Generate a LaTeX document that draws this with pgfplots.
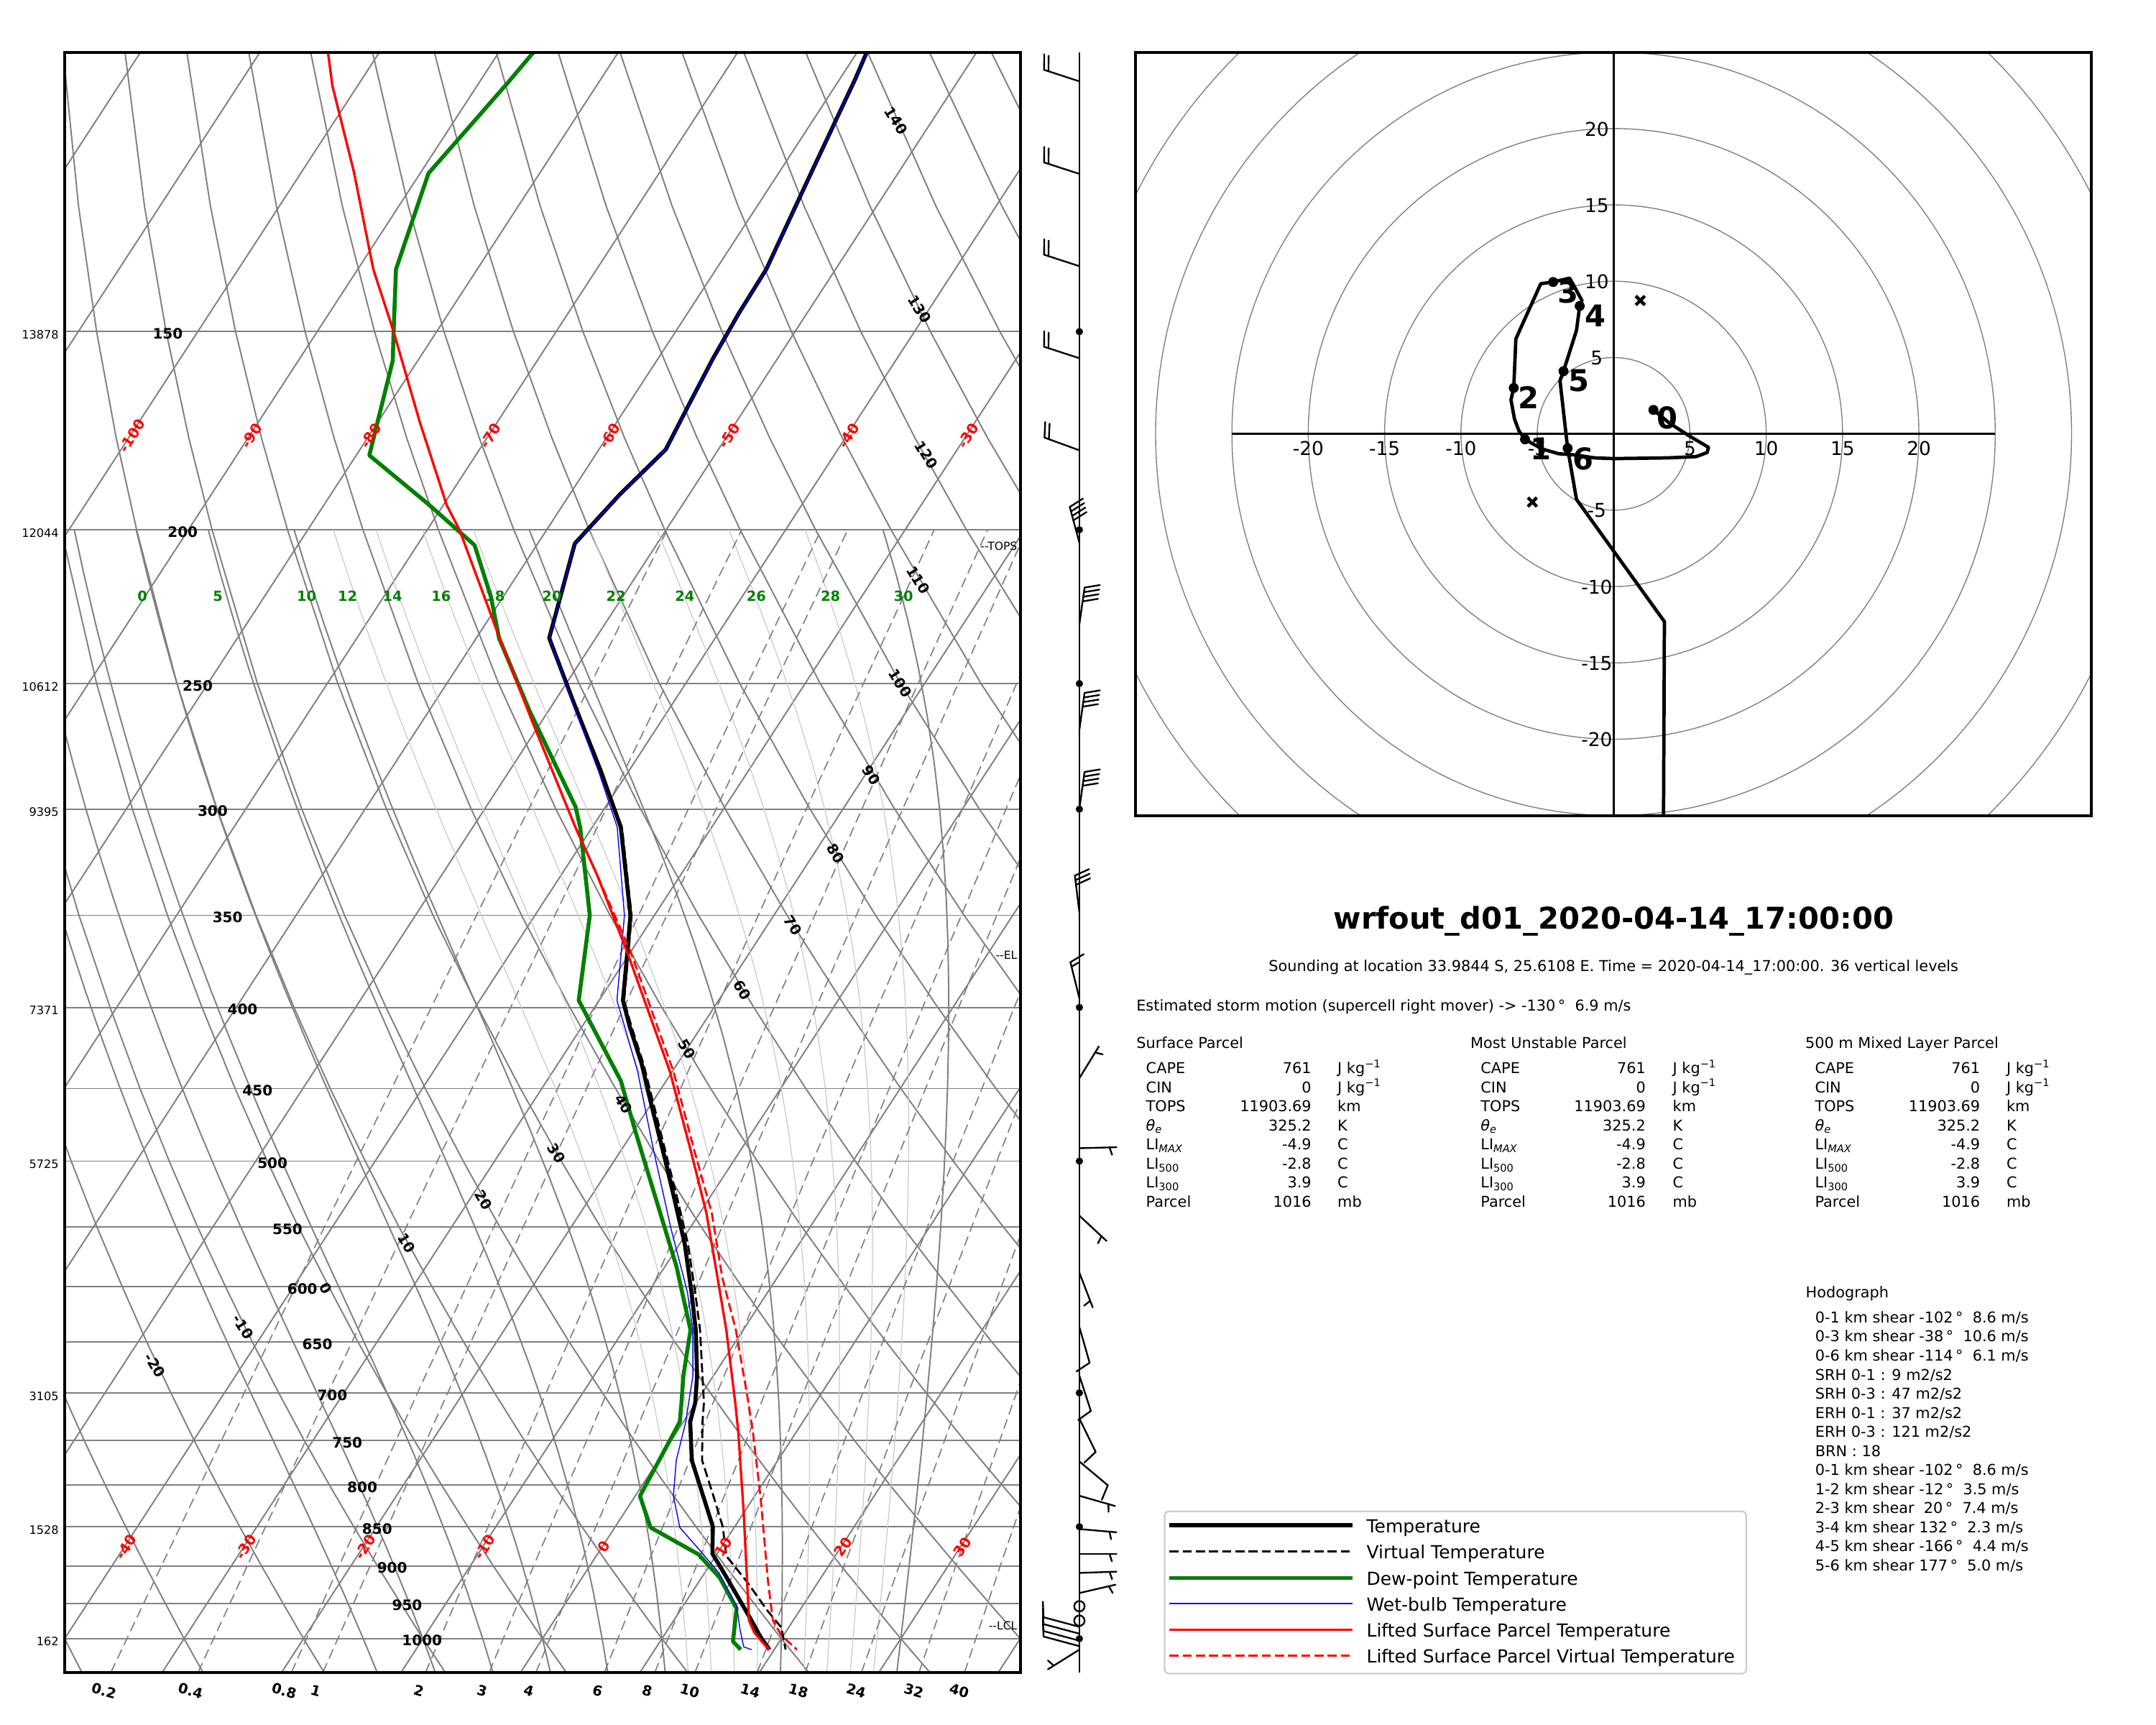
\documentclass[border=0pt]{standalone}
\usepackage{pgfplots}
\pgfplotsset{compat=1.18}
\usepackage{pgfplotstable}
\usepackage{fontspec}
\setmainfont{DejaVu Sans}

\definecolor{mgray}{HTML}{808080}
\definecolor{lgray}{HTML}{CACACA}
\definecolor{mgreen}{HTML}{008000}
\definecolor{legedge}{HTML}{CCCCCC}

\newcommand\U{0.68878pt}
\newcommand\fs[1]{\fontsize{#1}{#1}\selectfont}

% ---------------- sounding data (P in hPa, T in degC) ----------------
\pgfplotstableread{
P T
100 -59.2
104 -58.7
119 -57.3
137 -55.8
146 -55.7
156 -55.4
167 -54.9
178 -54.4
190 -55.8
204 -56.9
234 -53.9
258 -48.1
284 -42.3
308 -37.6
350 -32.0
371 -30.1
396 -28.0
411 -26.05
434 -23.0
462 -19.8
498 -15.9
526 -13.1
564 -9.56
605 -6.36
639 -3.96
683 -1.35
710 -0.05
730 0.57
772 2.8
816 5.9
850 8.17
884 9.6
906 11.38
938 13.85
971 16.3
998 18.2
1016 19.6
}\Ttab

\pgfplotstableread{
P T
100 -59.2
104 -58.7
119 -57.3
137 -55.8
146 -55.7
156 -55.4
167 -54.9
178 -54.4
190 -55.8
204 -56.9
234 -53.9
258 -48.1
284 -42.3
308 -37.5
350 -31.9
371 -30.0
396 -27.9
411 -25.9
434 -22.85
462 -19.6
498 -15.7
526 -12.85
564 -9.3
605 -6.05
639 -3.6
683 -0.9
710 0.68
730 1.6
772 3.66
810 6.35
850 9.0
887 10.9
921 14.05
960 17.3
984 19.4
1016 20.95
}\Tvtab

\pgfplotstableread{
P T
100 -87.1
104.6 -87.6
110.4 -88.3
119.2 -89.3
137 -86.8
150 -83.6
156.4 -82.1
179.5 -78.9
192.7 -71.3
204.5 -65.2
220.5 -61.0
234 -58.1
260 -51.6
299 -42.5
308 -41.0
350 -35.4
396 -31.7
445 -23.8
480 -19.7
583 -9.0
639 -4.4
683 -2.5
710 -1.2
730 -0.3
813 0.4
851 3.0
885 8.5
915 11.5
957 14.6
1004 16.1
1016 17.2
}\Tdtab

\pgfplotstableread{
P T
100 -59.2
104 -58.7
119 -57.3
137 -55.8
146 -55.7
156 -55.4
167 -54.9
178 -54.4
190 -55.8
204 -56.9
234 -53.9
258 -48.2
284 -42.5
308 -37.9
350 -32.5
396 -28.5
439 -22.9
493 -17.2
551 -11.6
605 -6.7
639 -4.2
683 -1.7
710 -0.6
730 0.2
772 1.5
813 3.2
851 5.45
878 8.2
909 11.2
954 14.5
988 16.1
1012 17.3
1016 18.1
}\Twtab

\pgfplotstableread{
P T
100 -104.3
105 -102.1
119 -95.6
137 -88.7
150 -83.6
171 -76.5
193 -69.7
200 -67.3
233 -58.3
264 -50.8
308 -41.4
330 -37.0
369 -30.3
439 -20.2
491 -14.3
539 -9.45
592 -5.0
639 -1.4
710 3.3
740 5.1
833 10.0
921 14.05
974 16.3
991 17.4
1005 18.6
1016 19.6
}\Tptab

\pgfplotstableread{
P T
100 -104.3
105 -102.1
119 -95.6
137 -88.7
150 -83.6
171 -76.5
193 -69.7
200 -67.3
233 -58.3
264 -50.8
308 -41.4
330 -37.0
369 -30.0
439 -19.9
491 -14.0
539 -9.0
592 -4.6
639 -0.6
710 4.4
743 6.5
816 10.65
921 15.8
974 18.3
995 19.8
1016 21.9
}\Tvptab

% ---------------- pressure levels for the diagram's reference lines ----------------
\pgfplotstableread{
P
1050
1000
950
900
850
800
750
700
650
600
550
500
450
400
350
300
250
200
175
150
125
100
}\Plev

\pgfplotstableread{
P
1050
100
}\Pends

\pgfplotstableread{
P
1050
900
700
500
400
300
250
200
}\Pmix

% ---------------- saturated (pseudo) adiabats: integration of the moist lapse rate ----------------
\newcommand\moistf[2]{%
  \edef\mes{\fpeval{6.112*exp(17.67*((#1)-273.15)/((#1)-29.65))}}%
  \edef\mr{\fpeval{622*\mes/((#2)-\mes)}}%
  \edef\kres{\fpeval{(0.287*(#1)+2.5*\mr)/(1.004+1.3545*\mr/(((#1)/100)^2))}}%
}
\newcommand\moiststep[1]{%
  \moistf{\mT}{\mP}\let\kone\kres
  \edef\Tm{\fpeval{\mT+0.5*(#1)*\kone}}%
  \edef\Pm{\fpeval{\mP*exp(0.5*(#1))}}%
  \moistf{\Tm}{\Pm}%
  \edef\mT{\fpeval{\mT+(#1)*\kres}}%
  \edef\mP{\fpeval{\mP*exp(#1)}}%
}
\newcount\mcount
\newcommand\buildmoist[1]{%
  \edef\mT{\fpeval{#1+273.15}}\def\mP{1000}%
  \moiststep{ln(1.05)}%
  \edef\mlist{(\fpeval{round(\mT-273.15+37.5*ln(1000/\mP),3)},1050)}%
  \edef\mT{\fpeval{#1+273.15}}\def\mP{1000}%
  \edef\mlist{\mlist(\fpeval{#1},1000)}%
  \mcount=0
  \loop
    \advance\mcount by 1
    \moiststep{ln(0.2)/24}%
    \edef\mlist{\mlist(\fpeval{round(\mT-273.15+37.5*ln(1000/\mP),3)},\fpeval{round(\mP,2)})}%
  \ifnum\mcount<24 \repeat
  \expandafter\global\expandafter\let\csname moist#1\endcsname\mlist
}
\pgfplotsforeachungrouped \w in {-15,-10,-5,0,5,10,12,14,16,18,20,22,24,26,28,30}{\buildmoist{\w}}

% ---------------- wind barb ----------------
\newcommand\barb[5]{%
  \begin{scope}[shift={(axis cs:0,#1)}, rotate=#2, line width=0.85pt, line cap=round, line join=round]
    \draw (0pt,0pt) -- (18.6pt,0pt);
    \ifnum#3>0
      \foreach \k in {1,...,#3}{%
        \pgfmathsetmacro\pa{18.6-(\k-1)*6.975}%
        \pgfmathsetmacro\pb{\pa-2.325}%
        \pgfmathsetmacro\pc{\pa-4.65}%
        \fill (\pa pt,0pt) -- (\pb pt,-7.44pt) -- (\pc pt,0pt) -- cycle;}%
    \fi
    \ifnum#4>0
      \foreach \k in {1,...,#4}{%
        \pgfmathsetmacro\pa{18.6-#3*6.975-(\k-1)*2.325}%
        \pgfmathsetmacro\pb{\pa+2.325}%
        \draw (\pa pt,0pt) -- (\pb pt,-7.44pt);}%
    \fi
    \ifnum#5>0
      \ifnum\numexpr#3+#4\relax=0
        \def\pa{15.11}%
      \else
        \pgfmathsetmacro\pa{18.6-#3*6.975-#4*2.325}%
      \fi
      \pgfmathsetmacro\pb{\pa+1.1625}%
      \draw (\pa pt,0pt) -- (\pb pt,-3.72pt);
    \fi
  \end{scope}}

\tikzset{c/.style={inner sep=0pt, text height=0.73em, text depth=0pt}}

\begin{document}
\begin{tikzpicture}[x=\U, y=-\U, font=\fs{7.5}]
\useasboundingbox (0,0) rectangle (1568,1254);

% =================== Skew-T log-P ===================
\begin{axis}[at={(32.373pt,-837.556pt)}, anchor=south west, width=478.702pt, height=811.383pt, scale only axis,
  xmin=-40, xmax=40, ymode=log, ymin=100, ymax=1050, y dir=reverse,
  xtick=\empty, ytick=\empty, major tick length=0pt, minor tick length=0pt,
  axis line style={line width=1.4pt}, axis on top, clip=true, no markers,
  every axis plot/.append style={line join=round}]
% isobars
\pgfplotsinvokeforeach{150,200,...,1000}{\addplot[mgray, line width=0.7pt] coordinates {(-40,#1) (40,#1)};}
% isotherms
\pgfplotsinvokeforeach{-130,-120,...,40}{\addplot[mgray, line width=0.7pt] table[x expr={#1+37.5*ln(1000/\thisrow{P})}, y=P]{\Pends};}
% dry adiabats
\pgfplotsinvokeforeach{-40,-30,...,160}{\addplot[mgray, line width=0.7pt] table[x expr={(#1+273.15)*((\thisrow{P}/1000)^0.2857)-273.15+37.5*ln(1000/\thisrow{P})}, y=P]{\Plev};}
% saturated adiabats
\pgfplotsinvokeforeach{12,14,16,18,22,24,26,28}{\edef\tmp{\noexpand\addplot[lgray, line width=0.45pt] coordinates {\csname moist#1\endcsname};}\tmp}
\pgfplotsinvokeforeach{-15,-10,-5,0,5,10,20,30}{\edef\tmp{\noexpand\addplot[mgray, line width=0.7pt] coordinates {\csname moist#1\endcsname};}\tmp}
% mixing ratio lines
\pgfplotsinvokeforeach{0.2,0.4,0.8,1,2,3,4,6,8,10,14,18,24,32,40}{\addplot[mgray, line width=0.6pt, dash pattern=on 5pt off 2.6pt] table[x expr={243.5*ln(#1*\thisrow{P}/((622+#1)*6.112))/(17.67-ln(#1*\thisrow{P}/((622+#1)*6.112)))+37.5*ln(1000/\thisrow{P})}, y=P]{\Pmix};}
% profiles
\addplot[black, line width=2pt] table[x expr={\thisrow{T}+37.5*ln(1000/\thisrow{P})}, y=P]{\Ttab};
\addplot[black, line width=1pt, dash pattern=on 4.6pt off 2pt] table[x expr={\thisrow{T}+37.5*ln(1000/\thisrow{P})}, y=P]{\Tvtab};
\addplot[mgreen, line width=2pt] table[x expr={\thisrow{T}+37.5*ln(1000/\thisrow{P})}, y=P]{\Tdtab};
\addplot[blue, line width=0.5pt] table[x expr={\thisrow{T}+37.5*ln(1000/\thisrow{P})}, y=P]{\Twtab};
\addplot[red, line width=1.2pt] table[x expr={\thisrow{T}+37.5*ln(1000/\thisrow{P})}, y=P]{\Tptab};
\addplot[red, line width=1pt, dash pattern=on 4.6pt off 2pt] table[x expr={\thisrow{T}+37.5*ln(1000/\thisrow{P})}, y=P]{\Tvptab};
\end{axis}

% =================== wind barbs ===================
\begin{axis}[at={(540.692pt,-837.556pt)}, anchor=south, width=10pt, height=811.383pt, scale only axis,
  xmin=-1, xmax=1, ymode=log, ymin=100, ymax=1050, y dir=reverse, hide axis, clip=false]
\addplot[black, line width=0.9pt, no markers] coordinates {(0,100) (0,1050)};
\addplot[only marks, mark=*, mark size=1.6pt, black] coordinates {(0,150)(0,200)(0,250)(0,300)(0,400)(0,500)(0,700)(0,850)(0,1000)};
\pgfplotsextra{
\barb{104.3}{162}{0}{2}{0}
\barb{119.3}{162}{0}{2}{0}
\barb{136.4}{162}{0}{2}{0}
\barb{155.9}{162}{0}{2}{0}
\barb{178.2}{160}{0}{2}{0}
\barb{203.8}{105}{0}{4}{0}
\barb{229.4}{82}{0}{4}{0}
\barb{267.3}{82}{0}{4}{0}
\barb{299.8}{82}{0}{4}{0}
\barb{348.5}{97}{0}{3}{0}
\barb{394.8}{104}{0}{1}{1}
\barb{443.3}{58.5}{0}{0}{1}
\barb{490.7}{1.5}{0}{0}{1}
\barb{541.2}{-43}{0}{0}{1}
\barb{587.9}{-69}{0}{0}{1}
\barb{636.2}{-74}{0}{1}{0}
\barb{682.7}{-72}{0}{1}{0}
\barb{726.6}{-64}{0}{1}{0}
\barb{773.3}{-40}{0}{1}{0}
\barb{812.7}{-16}{0}{0}{1}
\barb{852.9}{-5}{0}{0}{1}
\barb{884.3}{0}{0}{0}{1}
\barb{909.0}{2}{0}{0}{1}
\barb{935.9}{13}{0}{0}{1}
\draw[line width=0.85pt] (axis cs:0,954) circle[radius=2.6pt];
\draw[line width=0.85pt] (axis cs:0,974.2) circle[radius=2.6pt];
\barb{983.0}{165}{0}{1}{0}
\barb{992.8}{165}{0}{1}{0}
\barb{1002.9}{165}{0}{1}{0}
\barb{1010.9}{165}{0}{1}{0}
\barb{1016}{212}{0}{0}{1}
}
\end{axis}

% =================== hodograph ===================
\begin{axis}[at={(568.932pt,-408.447pt)}, anchor=south west, width=478.702pt, height=382.273pt, scale only axis,
  xmin=-31.3, xmax=31.3, ymin=-25, ymax=25, xtick=\empty, ytick=\empty,
  axis line style={line width=1.4pt}, axis on top, clip=true]
\pgfplotsinvokeforeach{5,10,...,40}{\draw[mgray, line width=0.5pt] (axis cs:0,0) circle[radius={#1*7.647pt}];}
\addplot[black, line width=1pt, no markers] coordinates {(-25,0) (25,0)};
\addplot[black, line width=1pt, no markers] coordinates {(0,-25) (0,25)};
\pgfplotsinvokeforeach{-20,-15,-10,-5,5,10,15,20}{\node[c, font=\fs{9.5}] at (axis cs:#1,-0.95) {#1};}
\pgfplotsinvokeforeach{-20,-15,-10,-5,5,10,15,20}{\node[c, font=\fs{9.5}] at (axis cs:-1.1,#1) {#1};}
\addplot[black, line width=1.7pt, no markers, line join=round] coordinates {
(2.61,1.57) (3.6,0.75) (4.95,-0.13) (6.22,-0.88) (6.13,-1.22) (5.41,-1.49) (3.6,-1.57) (0,-1.62)
(-1.26,-1.57) (-2.52,-1.38) (-3.6,-1.3) (-4.68,-0.99) (-5.80,-0.36) (-6.2,0.2) (-6.49,0.97)
(-6.72,2.23) (-6.54,3.01) (-6.40,6.23) (-4.77,9.84) (-3.96,9.95) (-2.88,10.2) (-2.07,8.74)
(-2.22,8.38) (-2.43,6.78) (-3.28,4.11) (-3.51,3.49) (-3.01,-0.94) (-2.43,-4.29) (3.33,-12.3) (3.25,-30)};
\addplot[only marks, mark=*, mark size=2.3pt, black] coordinates {
(2.61,1.57) (-5.80,-0.36) (-6.54,3.01) (-3.96,9.95) (-2.22,8.38) (-3.28,4.11) (-3.01,-0.94)};
\addplot[only marks, mark=x, mark size=3.2pt, black, line width=1.6pt] coordinates {(1.75,8.74) (-5.32,-4.47)};
\node[c, font=\bfseries\fs{15}] at (axis cs:3.51,0.82) {0};
\node[c, font=\bfseries\fs{15}] at (axis cs:-4.76,-1.22) {1};
\node[c, font=\bfseries\fs{15}] at (axis cs:-5.59,2.15) {2};
\node[c, font=\bfseries\fs{15}] at (axis cs:-2.97,9.06) {3};
\node[c, font=\bfseries\fs{15}] at (axis cs:-1.17,7.49) {4};
\node[c, font=\bfseries\fs{15}] at (axis cs:-2.25,3.25) {5};
\node[c, font=\bfseries\fs{15}] at (axis cs:-1.98,-1.85) {6};
\end{axis}

% =================== skew-T labels ===================
\foreach \p in {150,200,...,1000}{\node[c, font=\bfseries\fs{7.2}] at ({122+(\p-150)*0.2176},{1191.56-501*ln(1000/\p)}) {\p};}
\foreach \p/\h in {150/13878,200/12044,250/10612,300/9395,400/7371,500/5725,700/3105,850/1528,1000/162}{\node[c, anchor=east, font=\fs{5.8}] at (43,{1191.56-501*ln(1000/\p)}) {\h};}
\foreach \t in {-40,-30,...,30}{\node[c, red, font=\bfseries\fs{7.2}, rotate=57] at ({394.5+8.6875*(\t+5.01)},1124) {\t};}
\foreach \t in {-100,-90,...,-30}{\node[c, red, font=\bfseries\fs{7.2}, rotate=57] at ({394.5+8.6875*(\t+65.49)},316) {\t};}
\foreach \v/\x/\y in {140/653/87,130/670/224,120/675/330,110/669/421,100/656/496,90/635/563,80/609/620,70/578/672,60/541/719,50/501/762,40/455/802,30/406/838,20/353/872,10/297/903,0/238/936,-10/178/964,-20/114/992}{\node[c, font=\bfseries\fs{7.2}, rotate=-58] at (\x,\y) {\v};}
\foreach \v/\x in {0/103.5,5/158.4,10/223,12/252.8,14/285.4,16/320.8,18/360,20/401.4,22/448,24/498,26/550,28/604,30/657}{\node[c, mgreen, font=\bfseries\fs{7}] at (\x,432) {\v};}
\foreach \v/\x in {0.2/76,0.4/139,0.8/207,1/230,2/305,3/351,4/385,6/435,8/471,10/502,14/546,18/581,24/623,32/665,40/698}{\node[c, font=\bfseries\fs{7}, rotate=-15] at (\x,1228) {\v};}
\node[c, anchor=east, font=\fs{5.6}] at (740,395) {-{}-TOPS};
\node[c, anchor=east, font=\fs{5.6}] at (740,692) {-{}-EL};
\node[c, anchor=east, font=\fs{5.6}] at (740,1180) {-{}-LCL};

% =================== text block ===================
\node[c, font=\bfseries\fs{15}] at (1173.5,670) {wrfout\_d01\_2020-04-14\_17:00:00};
\node[c] at (1173.5,701) {Sounding at location 33.9844 S, 25.6108 E. Time = 2020-04-14\_17:00:00. 36 vertical levels};
\node[c, anchor=west] at (826.2,729.7) {Estimated storm motion (supercell right mover) -> -130\,°\ \ 6.9 m/s};
\node[c, anchor=west] at (826.2,757.1) {Surface Parcel};
\node[c, anchor=west] at (1069.1,757.1) {Most Unstable Parcel};
\node[c, anchor=west] at (1312.7,757.1) {500 m Mixed Layer Parcel};
\foreach \xl/\xv/\xu in {833.2/954/972.5,1076.6/1197.1/1216.3,1319.7/1440.3/1459}{
  \foreach \i/\lab/\val/\unit in {0/CAPE/761/J kg\textsuperscript{−1},1/CIN/0/J kg\textsuperscript{−1},2/TOPS/11903.69/km,3/\textit{θ}\textsubscript{\textit{e}}/325.2/K,4/LI\textsubscript{\textit{MAX}}/-4.9/C,5/LI\textsubscript{500}/-2.8/C,6/LI\textsubscript{300}/3.9/C,7/Parcel/1016/mb}{
    \node[c, anchor=west] at (\xl,{775.4+13.85*\i}) {\lab};
    \node[c, anchor=east] at (\xv,{775.4+13.85*\i}) {\val};
    \node[c, anchor=west] at (\xu,{775.4+13.85*\i}) {\unit};
  }
}
\node[c, anchor=west] at (1313,938.3) {Hodograph};
\newcommand\hl[2]{\node[c, anchor=west] at (1319.9,{956.6+13.87*#1}) {#2};}
\hl{0}{0-1 km shear -102\,°\ \ 8.6 m/s}
\hl{1}{0-3 km shear -38\,°\ \ 10.6 m/s}
\hl{2}{0-6 km shear -114\,°\ \ 6.1 m/s}
\hl{3}{SRH 0-1 : 9 m2/s2}
\hl{4}{SRH 0-3 : 47 m2/s2}
\hl{5}{ERH 0-1 : 37 m2/s2}
\hl{6}{ERH 0-3 : 121 m2/s2}
\hl{7}{BRN : 18}
\hl{8}{0-1 km shear -102\,°\ \ 8.6 m/s}
\hl{9}{1-2 km shear -12\,°\ \ 3.5 m/s}
\hl{10}{2-3 km shear \ 20\,°\ \ 7.4 m/s}
\hl{11}{3-4 km shear 132\,°\ \ 2.3 m/s}
\hl{12}{4-5 km shear -166\,°\ \ 4.4 m/s}
\hl{13}{5-6 km shear 177\,°\ \ 5.0 m/s}

% =================== legend ===================
\draw[legedge, line width=0.8pt, fill=white, rounded corners=2pt] (847,1099) rectangle (1270,1217);
\draw[black, line width=2pt] (850.5,1109.1) -- (983.7,1109.1);
\draw[black, line width=1pt, dash pattern=on 4.6pt off 2pt] (850.5,1128.2) -- (983.7,1128.2);
\draw[mgreen, line width=2pt] (850.5,1147.4) -- (983.7,1147.4);
\draw[blue, line width=0.5pt] (850.5,1166.1) -- (983.7,1166.1);
\draw[red, line width=1.2pt] (850.5,1185.2) -- (983.7,1185.2);
\draw[red, line width=1pt, dash pattern=on 4.6pt off 2pt] (850.5,1204.0) -- (983.7,1204.0);
\node[c, anchor=west, font=\fs{9}] at (993.6,1109.1) {Temperature};
\node[c, anchor=west, font=\fs{9}] at (993.6,1128.2) {Virtual Temperature};
\node[c, anchor=west, font=\fs{9}] at (993.6,1147.4) {Dew-point Temperature};
\node[c, anchor=west, font=\fs{9}] at (993.6,1166.1) {Wet-bulb Temperature};
\node[c, anchor=west, font=\fs{9}] at (993.6,1185.2) {Lifted Surface Parcel Temperature};
\node[c, anchor=west, font=\fs{9}] at (993.6,1204.0) {Lifted Surface Parcel Virtual Temperature};
\end{tikzpicture}
\end{document}
